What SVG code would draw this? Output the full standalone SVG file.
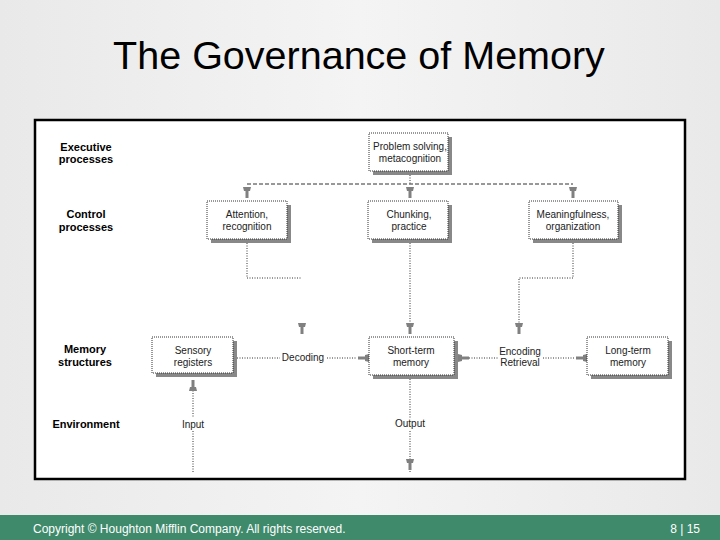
<svg xmlns="http://www.w3.org/2000/svg" width="720" height="540" viewBox="0 0 720 540">
<defs>
<linearGradient id="bg" x1="0" y1="0" x2="1" y2="0">
<stop offset="0" stop-color="#e9e9e9"/><stop offset="0.5" stop-color="#f4f4f4"/><stop offset="1" stop-color="#e9e9e9"/>
</linearGradient>
<path id="ah" d="M-4,0 L4,0 L3,4 L1.5,4 L1.5,11 L-1.5,11 L-1.5,4 L-3,4 Z"/>
</defs>
<style>
.lbl{font-family:"Liberation Sans",Arial,sans-serif;font-size:11px;font-weight:bold;fill:#000;text-anchor:middle}
.t{font-family:"Liberation Sans",Arial,sans-serif;font-size:10px;fill:#222;text-anchor:middle}
.box{fill:#fff;stroke:#333;stroke-width:1;stroke-dasharray:1 1}
.sh{fill:#888}
.ln{fill:none;stroke:#333;stroke-width:1;stroke-dasharray:1 1.5}
.dl{fill:none;stroke:#333;stroke-width:1;stroke-dasharray:4 2}
.ar{fill:#808080}
</style>
<rect width="720" height="540" fill="url(#bg)"/>
<text x="359" y="69" font-family="'Liberation Sans',Arial,sans-serif" font-size="39.5" text-anchor="middle" fill="#000">The Governance of Memory</text>
<rect x="35" y="120" width="650" height="359" fill="#fff" stroke="#000" stroke-width="2.5"/>

<g id="labels">
<text class="lbl" x="86" y="151">Executive</text>
<text class="lbl" x="86" y="163">processes</text>
<text class="lbl" x="86" y="218">Control</text>
<text class="lbl" x="86" y="231">processes</text>
<text class="lbl" x="85" y="353">Memory</text>
<text class="lbl" x="85" y="366">structures</text>
<text class="lbl" x="86" y="428">Environment</text>
</g>

<g id="connectors">
<path class="dl" d="M247,184 H573"/>
<path class="ln" d="M410,175 V184"/>
<path class="ln" d="M247,243 V278 H302"/>
<path class="ln" d="M410,243 V324"/>
<path class="ln" d="M573,243 V278 H519 V324"/>
<path class="ln" d="M237,358 H280"/>
<path class="ln" d="M327,358 H357"/>
<path class="ln" d="M469,358 H499"/>
<path class="ln" d="M543,358 H575"/>
<path class="ln" d="M410,379 V418"/>
<path class="ln" d="M410,431 V472"/>
<path class="ln" d="M193,388 V418"/>
<path class="ln" d="M193,431 V472"/>
<use href="#ah" class="ar" x="247" y="187"/>
<use href="#ah" class="ar" x="410" y="187"/>
<use href="#ah" class="ar" x="573" y="187"/>
<use href="#ah" class="ar" x="302" y="323"/>
<use href="#ah" class="ar" x="410" y="323"/>
<use href="#ah" class="ar" x="519" y="323"/>
<use href="#ah" class="ar" x="410" y="459"/>
<use href="#ah" class="ar" transform="translate(193,391) rotate(180)"/>
<use href="#ah" class="ar" transform="translate(369,358) rotate(90)"/>
<use href="#ah" class="ar" transform="translate(458,358) rotate(-90)"/>
<use href="#ah" class="ar" transform="translate(587,358) rotate(90)"/>
<text class="t" x="303" y="361">Decoding</text>
<text class="t" x="520" y="355">Encoding</text>
<text class="t" x="520" y="366">Retrieval</text>
<text class="t" x="193" y="428">Input</text>
<text class="t" x="410" y="427">Output</text>
</g>

<g id="problem">
<rect class="sh" x="373" y="137" width="79" height="38"/>
<rect class="box" x="369" y="133" width="79" height="38"/>
<text class="t" x="410" y="150">Problem solving,</text>
<text class="t" x="410" y="162">metacognition</text>
</g>
<g id="attention">
<rect class="sh" x="211" y="205" width="80" height="38"/>
<rect class="box" x="207" y="201" width="80" height="38"/>
<text class="t" x="247" y="218">Attention,</text>
<text class="t" x="247" y="230">recognition</text>
</g>
<g id="chunking">
<rect class="sh" x="372" y="205" width="80" height="38"/>
<rect class="box" x="368" y="201" width="80" height="38"/>
<text class="t" x="409" y="218">Chunking,</text>
<text class="t" x="409" y="230">practice</text>
</g>
<g id="meaning">
<rect class="sh" x="533" y="205" width="89" height="38"/>
<rect class="box" x="529" y="201" width="89" height="38"/>
<text class="t" x="573" y="218">Meaningfulness,</text>
<text class="t" x="573" y="230">organization</text>
</g>
<g id="sensory">
<rect class="sh" x="156" y="341" width="81" height="36"/>
<rect class="box" x="152" y="337" width="81" height="36"/>
<text class="t" x="193" y="354">Sensory</text>
<text class="t" x="193" y="366">registers</text>
</g>
<g id="shortterm">
<rect class="sh" x="373" y="341" width="85" height="38"/>
<rect class="box" x="369" y="337" width="85" height="38"/>
<text class="t" x="411" y="354">Short-term</text>
<text class="t" x="411" y="366">memory</text>
</g>
<g id="longterm">
<rect class="sh" x="591" y="341" width="81" height="38"/>
<rect class="box" x="587" y="337" width="81" height="38"/>
<text class="t" x="628" y="354">Long-term</text>
<text class="t" x="628" y="366">memory</text>
</g>

<rect x="0" y="515" width="720" height="25" fill="#3e8a6b"/>
<text x="33" y="533" font-family="'Liberation Sans',Arial,sans-serif" font-size="12" fill="#fff">Copyright © Houghton Mifflin Company. All rights reserved.</text>
<text x="700" y="533" font-family="'Liberation Sans',Arial,sans-serif" font-size="12" fill="#fff" text-anchor="end">8 | 15</text>
</svg>
